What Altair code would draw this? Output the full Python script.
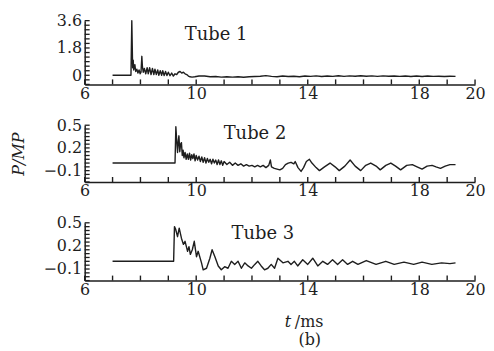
import altair as alt
import pandas as pd

FONT = "DejaVu Serif"
INK = "#1e1e1e"

# ---------------- data ----------------
t1 = [7.0, 7.3, 7.66, 7.69, 7.72, 7.74, 7.76, 7.8, 7.83, 7.87, 7.91, 7.95, 7.99, 8.02, 8.05,
      8.07, 8.1, 8.14, 8.19, 8.24, 8.28, 8.33, 8.38, 8.43, 8.48, 8.52, 8.57, 8.62, 8.66, 8.71,
      8.76, 8.8, 8.85, 8.9, 8.95, 9.0, 9.06, 9.12, 9.18, 9.24, 9.3, 9.36, 9.42, 9.48, 9.54,
      9.6, 9.66, 9.72, 9.78, 9.85, 9.95, 10.1, 10.3, 10.5, 10.7, 10.9, 11.1, 11.3, 11.5, 11.7,
      11.9, 12.1, 12.3, 12.5, 12.7, 12.9, 13.1, 13.3, 13.5, 13.7, 13.9, 14.1, 14.3, 14.5, 14.7,
      14.9, 15.1, 15.3, 15.5, 15.7, 15.9, 16.1, 16.3, 16.5, 16.7, 16.9, 17.1, 17.3, 17.5, 17.7,
      17.9, 18.1, 18.3, 18.5, 18.7, 18.9, 19.1, 19.3]
p1 = [0.0, 0.0, 0.0, 3.6, 0.5, 1.0, 0.35, 0.7, 0.25, 0.4, 0.15, 0.35, 0.1, 0.2, 1.25,
      0.6, 0.2, 0.45, 0.1, 0.5, 0.1, 0.5, 0.05, 0.45, 0.05, 0.4, 0.05, 0.35, 0.0, 0.3,
      0.0, 0.3, -0.02, 0.25, -0.02, 0.2, -0.03, 0.15, -0.05, 0.1, 0.05, 0.2, 0.25, 0.15, 0.2,
      0.1, 0.05, -0.05, -0.1, -0.12, -0.1, -0.05, -0.05, -0.1, -0.08, -0.12, -0.1, -0.12, -0.1, -0.13,
      -0.1, -0.08, -0.06, -0.02, -0.07, -0.1, -0.05, -0.08, -0.06, -0.1, -0.05, -0.07, -0.04, -0.08, -0.05,
      -0.07, -0.03, -0.07, -0.04, -0.06, -0.03, -0.06, -0.04, -0.07, -0.04, -0.06, -0.05, -0.07, -0.05, -0.08,
      -0.05, -0.08, -0.05, -0.07, -0.06, -0.08, -0.06, -0.07]

t2 = [7.0, 8.0, 9.24, 9.27, 9.3, 9.33, 9.36, 9.38, 9.41, 9.44, 9.47, 9.5, 9.53, 9.56, 9.6,
      9.64, 9.68, 9.72, 9.76, 9.8, 9.84, 9.88, 9.92, 9.96, 10.0, 10.05, 10.1, 10.15, 10.2, 10.25,
      10.3, 10.35, 10.4, 10.45, 10.5, 10.55, 10.6, 10.65, 10.7, 10.75, 10.8, 10.85, 10.9, 10.95, 11.0,
      11.1, 11.2, 11.3, 11.4, 11.5, 11.6, 11.7, 11.8, 11.9, 12.0, 12.1, 12.2, 12.3, 12.4, 12.5,
      12.6, 12.66, 12.7, 12.8, 12.9, 13.0, 13.1, 13.2, 13.3, 13.4, 13.5, 13.55, 13.65, 13.76, 13.85,
      13.95, 14.06, 14.15, 14.3, 14.42, 14.6, 14.8, 14.98, 15.13, 15.33, 15.52, 15.7, 15.9, 16.08, 16.26,
      16.45, 16.6, 16.8, 16.98, 17.15, 17.33, 17.55, 17.75, 17.92, 18.1, 18.28, 18.46, 18.6, 18.76, 18.93,
      19.1, 19.3]
p2 = [0.0, 0.0, 0.0, 0.48, 0.3, 0.14, 0.3, 0.36, 0.15, 0.25, 0.27, 0.1, 0.17, 0.07, 0.14,
      0.05, 0.12, 0.05, 0.13, 0.04, 0.11, 0.06, 0.12, 0.03, 0.1, 0.04, 0.09, 0.02, 0.08, 0.01,
      0.07, 0.0, 0.06, 0.01, 0.05, -0.01, 0.05, 0.0, 0.04, -0.02, 0.04, -0.02, 0.03, -0.03, 0.02,
      -0.02, 0.01, -0.03, 0.0, -0.03, -0.01, -0.04, -0.02, -0.04, -0.03, -0.05, -0.03, -0.05, -0.03, -0.06,
      -0.03, 0.04, -0.05, -0.07, -0.08, -0.09, -0.07, -0.02, 0.0, 0.01, -0.01, 0.02, -0.06, -0.11, -0.06,
      0.02, 0.05, 0.0, -0.06, -0.1, -0.05, 0.0, -0.05, -0.1, -0.04, 0.04, -0.04, -0.1, -0.03, 0.0,
      -0.04, -0.09, -0.03, 0.0, -0.04, -0.09, -0.03, -0.02, -0.05, -0.08, -0.04, -0.03, -0.05, -0.07, -0.04,
      -0.02, -0.02]

t3 = [7.0, 8.0, 9.19, 9.22, 9.26, 9.33, 9.39, 9.47, 9.54, 9.6, 9.69, 9.74, 9.79, 9.86, 9.93,
      10.01, 10.07, 10.19, 10.25, 10.37, 10.49, 10.57, 10.67, 10.79, 10.9, 11.02, 11.14, 11.26, 11.38, 11.5,
      11.62, 11.74, 11.86, 11.98, 12.1, 12.21, 12.33, 12.45, 12.57, 12.69, 12.81, 12.93, 12.99, 13.11, 13.29,
      13.4, 13.52, 13.64, 13.82, 14.0, 14.18, 14.36, 14.54, 14.71, 14.89, 15.07, 15.25, 15.43, 15.61, 15.8,
      16.1, 16.45, 16.8, 17.1, 17.45, 17.8, 18.1, 18.45, 18.8, 19.1, 19.3]
p3 = [0.0, 0.0, 0.0, 0.45, 0.42, 0.32, 0.43, 0.3, 0.22, 0.26, 0.13, 0.19, 0.09, 0.15, 0.26,
      0.06, 0.13, -0.02, -0.11, -0.09, 0.04, 0.15, 0.06, -0.06, -0.11, -0.07, -0.09, 0.0, -0.04, 0.0,
      -0.09, -0.02, -0.06, -0.09, -0.04, 0.0, -0.06, -0.11, -0.09, -0.04, -0.09, 0.04, 0.02, -0.02, 0.0,
      -0.04, 0.0, -0.06, 0.02, -0.04, 0.04, -0.06, 0.0, -0.04, 0.02, -0.04, 0.02, -0.04, 0.0, -0.04,
      0.01, -0.04, 0.0, -0.04, -0.01, -0.04, -0.01, -0.04, -0.02, -0.03, -0.02]

X_LABELS = [6, 10, 14, 18, 20]
X_MINOR = [7, 8, 9, 11, 12, 13, 15, 16, 17, 19]
Y1_MAJOR = [0, 1.8, 3.6]
Y1_MINOR = [-0.6, -0.3, 0.3, 0.6, 0.9, 1.2, 1.5, 2.1, 2.4, 2.7, 3.0, 3.3]
Y23_MAJOR = [-0.1, 0.2, 0.5]
Y23_MINOR = [-0.25, -0.2, -0.15, -0.05, 0.0, 0.05, 0.1, 0.15, 0.25, 0.3, 0.35, 0.4, 0.45]
LABELS = ["Tube 1", "Tube 2", "Tube 3"]

W = 392


def panel(t, p, ydom, ymaj, ymin, yfmt, h, label, lx, ly, ytitle=None):
    xs = alt.Scale(domain=[6, 20], nice=False, zero=False)
    ys = alt.Scale(domain=ydom, nice=False, zero=False)
    df = pd.DataFrame({"t": t, "p": p})
    # bottom axis: labels + domain, ticks drawn on the same axis but pointing inward
    # via a negative-free trick: the tick layer below uses rules in data space
    xaxis = alt.Axis(values=X_LABELS, ticks=False, labelPadding=1, grid=False, title=None,
                     labelFlush=False, labelOverlap=False, format="d")
    yaxis_kw = dict(values=ymaj, ticks=False, labelPadding=3, grid=False, format=yfmt,
                    labelOverlap=False, labelFlush=False)
    if ytitle:
        yaxis_kw.update(title=ytitle, titlePadding=17, titleFontStyle="italic",
                        titleFontWeight="normal")
    else:
        yaxis_kw.update(title=None)
    yaxis = alt.Axis(**yaxis_kw)
    line = alt.Chart(df).mark_line(color=INK, strokeWidth=1.4, strokeJoin="round").encode(
        x=alt.X("t:Q", scale=xs, axis=xaxis),
        y=alt.Y("p:Q", scale=ys, axis=yaxis),
    )
    # tick marks as short rules expressed fully in data space
    yspan = ydom[1] - ydom[0]
    xt_len = yspan * 5.0 / h
    xtick_df = pd.DataFrame({
        "t": X_MINOR + X_LABELS,
        "p": [ydom[0]] * (len(X_MINOR) + len(X_LABELS)),
        "p2": [ydom[0] + xt_len] * (len(X_MINOR) + len(X_LABELS)),
    })
    yt_len = 14.0 * 5.0 / W
    ytick_vals = ymin + ymaj
    ytick_df = pd.DataFrame({
        "t": [6.0] * len(ytick_vals),
        "t2": [6.0 + yt_len] * len(ytick_vals),
        "p": ytick_vals,
    })
    xticks = alt.Chart(xtick_df).mark_rule(color=INK, strokeWidth=1.4).encode(
        x=alt.X("t:Q", scale=xs, axis=xaxis),
        y=alt.Y("p:Q", scale=ys, axis=yaxis),
        y2="p2:Q",
    )
    yticks = alt.Chart(ytick_df).mark_rule(color=INK, strokeWidth=1.3).encode(
        x=alt.X("t:Q", scale=xs, axis=xaxis),
        x2="t2:Q",
        y=alt.Y("p:Q", scale=ys, axis=yaxis),
    )
    txt = alt.Chart(pd.DataFrame({"s": [label]})).mark_text(
        font=FONT, fontSize=18, align="center", baseline="alphabetic", color=INK).encode(
        x=alt.value(lx), y=alt.value(ly), text="s:N")
    return alt.layer(line, xticks, yticks, txt).properties(width=W, height=h)


c1 = panel(t1, p1, [-0.6, 3.6], Y1_MAJOR, Y1_MINOR, ".1~f", 64, LABELS[0], 132, 19)
c2 = panel(t2, p2, [-0.25, 0.5], Y23_MAJOR, Y23_MINOR, ".1f", 57, LABELS[1], 171, 14, ytitle="P/MP")
c3 = panel(t3, p3, [-0.25, 0.5], Y23_MAJOR, Y23_MINOR, ".1f", 58, LABELS[2], 179, 16)

tt = alt.Chart(pd.DataFrame({"s": ["t"]})).mark_text(
    font=FONT, fontSize=16, fontStyle="italic", align="left", baseline="alphabetic", color=INK).encode(
    x=alt.value(201), y=alt.value(105), text="s:N")
ms = alt.Chart(pd.DataFrame({"s": ["/ms"]})).mark_text(
    font=FONT, fontSize=16, align="left", baseline="alphabetic", color=INK).encode(
    x=alt.value(211), y=alt.value(105), text="s:N")
bb = alt.Chart(pd.DataFrame({"s": ["(b)"]})).mark_text(
    font=FONT, fontSize=16, align="center", baseline="alphabetic", color=INK).encode(
    x=alt.value(226), y=alt.value(123), text="s:N")
c3 = alt.layer(c3, tt, ms, bb)

chart = alt.vconcat(c1, c2, c3, spacing=41, bounds="flush").properties(
    padding={"left": 2, "top": 4, "right": 0, "bottom": 0}, background="white"
).configure_view(stroke=None).configure_axis(
    domainColor=INK, domainWidth=1.5, labelColor=INK, labelFont=FONT, labelFontSize=16,
    titleFont=FONT, titleFontSize=16, titleColor=INK
)

chart.save("out.html", embed_options={"renderer": "svg", "actions": False})
